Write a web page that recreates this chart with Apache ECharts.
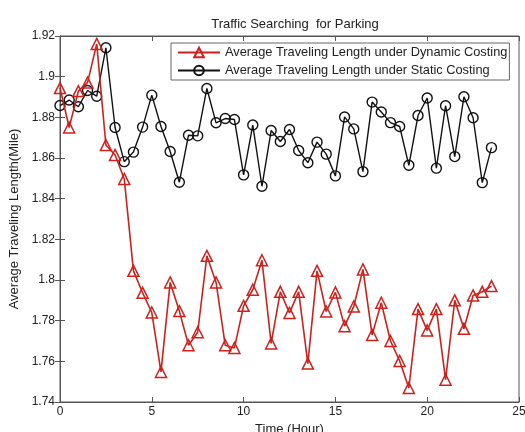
<!DOCTYPE html>
<html><head><meta charset="utf-8">
<script src="https://cdn.jsdelivr.net/npm/echarts@6/dist/echarts.min.js"></script>
<style>html,body{margin:0;padding:0;background:#fff}#c{width:525px;height:432px}</style>
</head><body><div id="c"></div>
<script>
var hours = [0,0.5,1,1.5,2,2.5,3,3.5,4,4.5,5,5.5,6,6.5,7,7.5,8,8.5,9,9.5,10,10.5,11,11.5,12,12.5,13,13.5,14,14.5,15,15.5,16,16.5,17,17.5,18,18.5,19,19.5,20,20.5,21,21.5,22,22.5,23,23.5];
var dynamicCost = [1.8944,1.875,1.8929,1.8971,1.9161,1.8664,1.8615,1.8497,1.8045,1.7937,1.784,1.7548,1.7988,1.7847,1.7679,1.7743,1.8119,1.7988,1.7679,1.7666,1.7873,1.7952,1.8097,1.7688,1.7942,1.7838,1.7942,1.7589,1.8045,1.7845,1.7939,1.7773,1.787,1.8052,1.773,1.7888,1.77,1.7602,1.7469,1.7857,1.7752,1.7857,1.751,1.79,1.776,1.7924,1.7942,1.797];
var staticCost = [1.8858,1.8885,1.8852,1.8932,1.8904,1.9142,1.875,1.8582,1.8629,1.8752,1.8909,1.8755,1.8632,1.8481,1.8712,1.8709,1.8942,1.8773,1.8794,1.8789,1.8517,1.8762,1.8461,1.8735,1.8681,1.874,1.8637,1.8577,1.8678,1.8619,1.8512,1.8802,1.8743,1.8533,1.8875,1.8826,1.8774,1.8755,1.8564,1.8809,1.8895,1.855,1.8857,1.8607,1.8901,1.8798,1.8479,1.8651];
var seriesNames = ['Average Traveling Length under Dynamic Costing','Average Traveling Length under Static Costing'];
var titleText = 'Traffic Searching  for Parking';
var xName = 'Time (Hour)';
var yName = 'Average Traveling Length(Mile)';

function pairs(v){ return hours.map(function(h,i){ return [h, v[i]]; }); }
var font = 'Liberation Sans';
var chart = echarts.init(document.getElementById('c'), null, {renderer:'canvas'});
var axLine = {show:true, lineStyle:{color:'#555', width:1}};
chart.setOption({
  animation:false,
  backgroundColor:'#fff',
  title:{text:titleText, left:290, top:13, textAlign:'center', textStyle:{fontFamily:font, fontSize:13, fontWeight:'normal', color:'#222'}},
  legend:{
    left:171, top:43, orient:'vertical', itemGap:5, itemWidth:42, itemHeight:12,
    borderColor:'#666', borderWidth:1, padding:[3,2,3,6], backgroundColor:'#fff',
    textStyle:{fontFamily:font, fontSize:12.8, color:'#222'},
    data:seriesNames
  },
  grid:{left:60, right:6, top:36, bottom:30, containLabel:false, outerBoundsMode:'none', show:true, borderColor:'#555', borderWidth:1},
  xAxis:[{
    type:'value', min:0, max:25, interval:5, position:'bottom',
    name:xName, nameLocation:'middle', nameGap:20,
    nameTextStyle:{fontFamily:font, fontSize:13, color:'#222'},
    axisLine:axLine, axisTick:{inside:true, length:5, lineStyle:{color:'#555'}},
    axisLabel:{fontFamily:font, fontSize:12, color:'#222', margin:4},
    splitLine:{show:false}
  },{
    type:'value', min:0, max:25, interval:5, position:'top',
    axisLine:axLine, axisTick:{inside:true, length:5, lineStyle:{color:'#555'}},
    axisLabel:{show:false}, splitLine:{show:false}
  }],
  yAxis:[{
    type:'value', min:1.74, max:1.92, interval:0.02, position:'left',
    name:yName, nameLocation:'middle', nameGap:29,
    nameTextStyle:{fontFamily:font, fontSize:13, color:'#222'},
    axisLine:axLine, axisTick:{inside:true, length:5, lineStyle:{color:'#555'}},
    axisLabel:{fontFamily:font, fontSize:12, color:'#222', margin:5,
      formatter:function(v){ return String(parseFloat(v.toFixed(2))); }},
    splitLine:{show:false}
  },{
    type:'value', min:1.74, max:1.92, interval:0.02, position:'right',
    axisLine:axLine, axisTick:{inside:true, length:5, lineStyle:{color:'#555'}},
    axisLabel:{show:false}, splitLine:{show:false}
  }],
  series:[{
    name:seriesNames[0], type:'line', data:pairs(dynamicCost),
    symbol:'triangle', symbolSize:11, showAllSymbol:true,
    lineStyle:{color:'#d0201c', width:1.6},
    itemStyle:{color:'rgba(255,255,255,0)', borderColor:'#d0201c', borderWidth:1.5},
    z:3
  },{
    name:seriesNames[1], type:'line', data:pairs(staticCost),
    symbol:'circle', symbolSize:10, showAllSymbol:true,
    lineStyle:{color:'#111', width:1.4},
    itemStyle:{color:'rgba(255,255,255,0)', borderColor:'#111', borderWidth:1.4},
    z:2
  }]
});
</script></body></html>
